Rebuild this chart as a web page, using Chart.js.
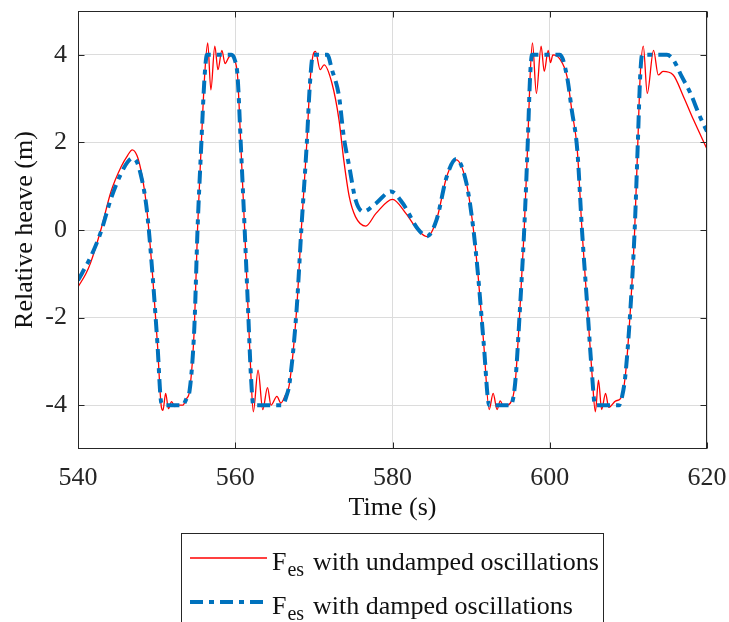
<!DOCTYPE html>
<html>
<head>
<meta charset="utf-8">
<script src="https://cdn.jsdelivr.net/npm/chart.js@4.4.0/dist/chart.umd.min.js"></script>
<style>
html, body { margin: 0; padding: 0; background: #fff; }
canvas { display: block; }
</style>
</head>
<body>
<canvas id="heaveChart" width="729" height="622"></canvas>
<script>
// Datos
const xTicks = [540, 560, 580, 600, 620];
const yTicks = [-4, -2, 0, 2, 4];

const undampedTime = [540.0, 541.0, 541.6, 542.9, 544.2, 545.5, 546.3, 546.9, 547.5, 548.0, 548.5, 548.85, 549.5, 550.1, 550.6, 550.8, 551.15, 551.5, 551.9, 552.3, 552.8, 553.3, 553.8, 554.2, 554.8, 555.2, 555.65, 556.1, 556.5, 556.9, 557.4, 557.8, 558.3, 558.7, 559.2, 559.6, 560.0, 560.3, 560.7, 561.2, 561.6, 562.0, 562.3, 562.9, 563.5, 564.1, 564.55, 565.3, 565.8, 566.3, 566.9, 567.8, 568.4, 569.1, 569.5, 569.9, 570.2, 570.8, 571.3, 572.3, 573.2, 573.8, 574.5, 575.3, 576.6, 577.9, 580.0, 581.7, 583.2, 584.4, 585.6, 586.9, 588.1, 589.4, 590.3, 590.9, 591.6, 592.3, 592.8, 593.3, 593.7, 594.1, 595.0, 595.6, 596.2, 596.75, 597.2, 597.5, 597.8, 598.3, 598.9, 599.3, 599.8, 600.1, 600.4, 601.3, 602.2, 602.8, 603.5, 604.1, 604.75, 605.4, 605.8, 606.2, 606.6, 607.1, 607.5, 608.4, 609.0, 609.6, 610.25, 610.8, 611.2, 611.5, 611.9, 612.4, 613.2, 613.8, 614.4, 615.7, 617.0, 618.3, 620.0];
const undampedHeave = [-1.30, -1.00, -0.75, 0.00, 0.88, 1.45, 1.70, 1.83, 1.70, 1.37, 0.85, 0.30, -1.07, -2.59, -4.04, -4.12, -3.73, -4.08, -3.92, -4.03, -4.00, -4.00, -3.85, -3.66, -2.21, 0.00, 1.83, 3.50, 4.27, 3.20, 4.20, 3.66, 4.10, 3.80, 3.95, 4.00, 3.85, 3.50, 1.98, 0.00, -1.68, -3.35, -4.15, -3.20, -4.10, -3.60, -4.00, -3.80, -3.95, -3.80, -3.50, -1.83, 0.00, 1.98, 3.35, 4.00, 4.08, 3.66, 3.77, 3.35, 2.51, 1.60, 0.76, 0.30, 0.09, 0.38, 0.70, 0.38, 0.00, -0.15, 0.23, 1.22, 1.60, 1.07, 0.00, -1.07, -2.59, -4.10, -3.73, -4.10, -3.90, -4.02, -3.95, -3.50, -1.83, 0.00, 1.98, 3.50, 4.27, 3.12, 4.20, 3.62, 4.10, 3.82, 4.00, 3.90, 3.50, 2.74, 1.83, 0.00, -1.68, -3.35, -4.15, -3.43, -4.10, -3.73, -4.05, -3.90, -3.85, -3.35, -1.83, 0.00, 1.98, 3.50, 4.20, 3.12, 4.10, 3.54, 3.62, 3.54, 3.05, 2.51, 1.85];

const dampedTime = [540.0, 541.6, 542.9, 544.2, 545.5, 546.3, 546.9, 547.5, 548.0, 548.5, 548.85, 549.5, 550.1, 550.6, 551.0, 553.3, 553.8, 554.2, 554.8, 555.2, 555.65, 556.1, 556.4, 559.5, 560.0, 560.3, 560.7, 561.2, 561.6, 562.0, 562.3, 566.0, 566.5, 566.9, 567.8, 568.4, 569.1, 569.5, 569.9, 571.7, 572.3, 573.2, 573.8, 574.5, 575.3, 576.3, 577.9, 579.8, 581.3, 583.2, 584.4, 585.6, 586.9, 588.1, 589.4, 590.3, 590.9, 591.6, 592.3, 595.0, 595.6, 596.2, 596.75, 597.2, 597.5, 597.75, 601.3, 602.2, 602.8, 603.5, 604.1, 604.75, 605.4, 605.75, 608.8, 609.2, 609.6, 610.25, 610.8, 611.2, 611.5, 611.75, 614.9, 615.7, 616.8, 617.9, 619.1, 620.0];
const dampedHeave = [-1.15, -0.62, -0.05, 0.72, 1.30, 1.55, 1.64, 1.55, 1.25, 0.80, 0.30, -1.07, -2.59, -3.95, -4.00, -4.00, -3.85, -3.66, -2.21, 0.00, 1.83, 3.50, 4.00, 4.00, 3.85, 3.50, 1.98, 0.00, -1.68, -3.35, -4.00, -4.00, -3.80, -3.50, -1.83, 0.00, 1.98, 3.35, 4.00, 4.00, 3.66, 3.05, 2.13, 1.45, 0.69, 0.42, 0.61, 0.88, 0.61, 0.03, -0.14, 0.23, 1.22, 1.62, 1.07, 0.00, -1.07, -2.59, -4.00, -4.00, -3.50, -1.83, 0.00, 1.98, 3.50, 4.00, 4.00, 3.50, 2.74, 1.83, 0.00, -1.68, -3.35, -4.00, -4.00, -3.80, -3.35, -1.83, 0.00, 1.98, 3.50, 4.00, 4.00, 3.89, 3.50, 3.12, 2.59, 2.25];

const legendNames = ['with undamped oscillations', 'with damped oscillations'];

const RED = '#ff0000';
const BLUE = '#0072bd';
const AXIS = '#262626';
const FONT = "'Liberation Serif', 'Times New Roman', serif";
const BLUE_DASH = [13, 6, 5, 6];

function toPoints(ts, vs) {
    return ts.map((t, i) => ({ x: t, y: vs[i] }));
}

// Quitar el relleno automático que Chart.js deja para las etiquetas de los extremos
function noEdgePadding(scale) {
    scale.paddingLeft = 0;
    scale.paddingRight = 0;
    scale.paddingTop = 0;
    scale.paddingBottom = 0;
}

// Marco completo y marcas hacia dentro (estilo MATLAB)
const framePlugin = {
    id: 'frame',
    afterDatasetsDraw(chart) {
        const { ctx, chartArea: a, scales: { x, y } } = chart;
        const L = Math.round(a.left) + 0.5, R = Math.round(a.right) - 0.5;
        const T = Math.round(a.top) + 0.5, B = Math.round(a.bottom) - 0.5;
        ctx.save();
        ctx.strokeStyle = AXIS;
        ctx.lineWidth = 1;
        ctx.strokeRect(L, T, R - L, B - T);
        ctx.beginPath();
        const len = 6;
        xTicks.forEach(v => {
            const px = Math.round(x.getPixelForValue(v)) + 0.5;
            ctx.moveTo(px, B); ctx.lineTo(px, B - len);
            ctx.moveTo(px, T); ctx.lineTo(px, T + len);
        });
        yTicks.forEach(v => {
            const py = Math.round(y.getPixelForValue(v)) + 0.5;
            ctx.moveTo(L, py); ctx.lineTo(L + len, py);
            ctx.moveTo(R, py); ctx.lineTo(R - len, py);
        });
        ctx.stroke();
        ctx.restore();
    }
};

// Leyenda con subíndice
const legendPlugin = {
    id: 'subLegend',
    afterDraw(chart) {
        const { ctx } = chart;
        ctx.save();
        ctx.fillStyle = '#fff';
        ctx.fillRect(181.5, 533.5, 422, 100);
        ctx.strokeStyle = AXIS;
        ctx.lineWidth = 1;
        ctx.strokeRect(181.5, 533.5, 422, 100);

        const rows = [
            { y: 558, color: RED, width: 1.3, dash: [] },
            { y: 602, color: BLUE, width: 4, dash: BLUE_DASH }
        ];
        rows.forEach((r, i) => {
            ctx.beginPath();
            ctx.strokeStyle = r.color;
            ctx.lineWidth = r.width;
            ctx.setLineDash(r.dash);
            ctx.moveTo(190, r.y);
            ctx.lineTo(267, r.y);
            ctx.stroke();
            ctx.setLineDash([]);

            const base = r.y + 12;
            ctx.fillStyle = '#111';
            ctx.textBaseline = 'alphabetic';
            ctx.textAlign = 'left';
            ctx.font = '26px ' + FONT;
            ctx.fillText('F', 272, base);
            const fw = ctx.measureText('F').width;
            ctx.font = '20px ' + FONT;
            ctx.fillText('es', 272 + fw + 1, base + 6);
            ctx.font = '26px ' + FONT;
            ctx.fillText(legendNames[i], 313, base);
        });
        ctx.restore();
    }
};

new Chart(document.getElementById('heaveChart'), {
    type: 'line',
    data: {
        datasets: [{
            label: 'Fes ' + legendNames[1],
            data: toPoints(dampedTime, dampedHeave),
            borderColor: BLUE,
            borderWidth: 4,
            borderDash: BLUE_DASH,
            pointRadius: 0,
            cubicInterpolationMode: 'monotone',
            fill: false
        }, {
            label: 'Fes ' + legendNames[0],
            data: toPoints(undampedTime, undampedHeave),
            borderColor: RED,
            borderWidth: 1.3,
            pointRadius: 0,
            cubicInterpolationMode: 'monotone',
            fill: false
        }]
    },
    options: {
        responsive: false,
        animation: false,
        events: [],
        layout: { padding: { top: 11, right: 22, bottom: 101, left: 0 } },
        plugins: {
            legend: { display: false },
            tooltip: { enabled: false }
        },
        scales: {
            x: {
                type: 'linear',
                min: 540,
                max: 620,
                afterBuildTicks(scale) { scale.ticks = xTicks.map(v => ({ value: v })); },
                afterFit(scale) { scale.height = 72; noEdgePadding(scale); },
                grid: { color: '#dcdcdc', drawTicks: false },
                border: { display: false },
                ticks: { color: AXIS, padding: 14, maxRotation: 0, font: { family: FONT, size: 26 } },
                title: {
                    display: true,
                    text: 'Time (s)',
                    color: '#111',
                    padding: { top: 0, bottom: 0 },
                    font: { family: FONT, size: 26, lineHeight: 1 }
                }
            },
            y: {
                type: 'linear',
                min: -5,
                max: 5,
                afterBuildTicks(scale) { scale.ticks = yTicks.map(v => ({ value: v })); },
                afterFit(scale) { scale.width = 78; noEdgePadding(scale); },
                grid: { color: '#dcdcdc', drawTicks: false },
                border: { display: false },
                ticks: { color: AXIS, padding: 11, font: { family: FONT, size: 26 } },
                title: {
                    display: true,
                    text: 'Relative heave (m)',
                    color: '#111',
                    padding: { top: 12, bottom: 0 },
                    font: { family: FONT, size: 26, lineHeight: 1 }
                }
            }
        }
    },
    plugins: [framePlugin, legendPlugin]
});
</script>
</body>
</html>
